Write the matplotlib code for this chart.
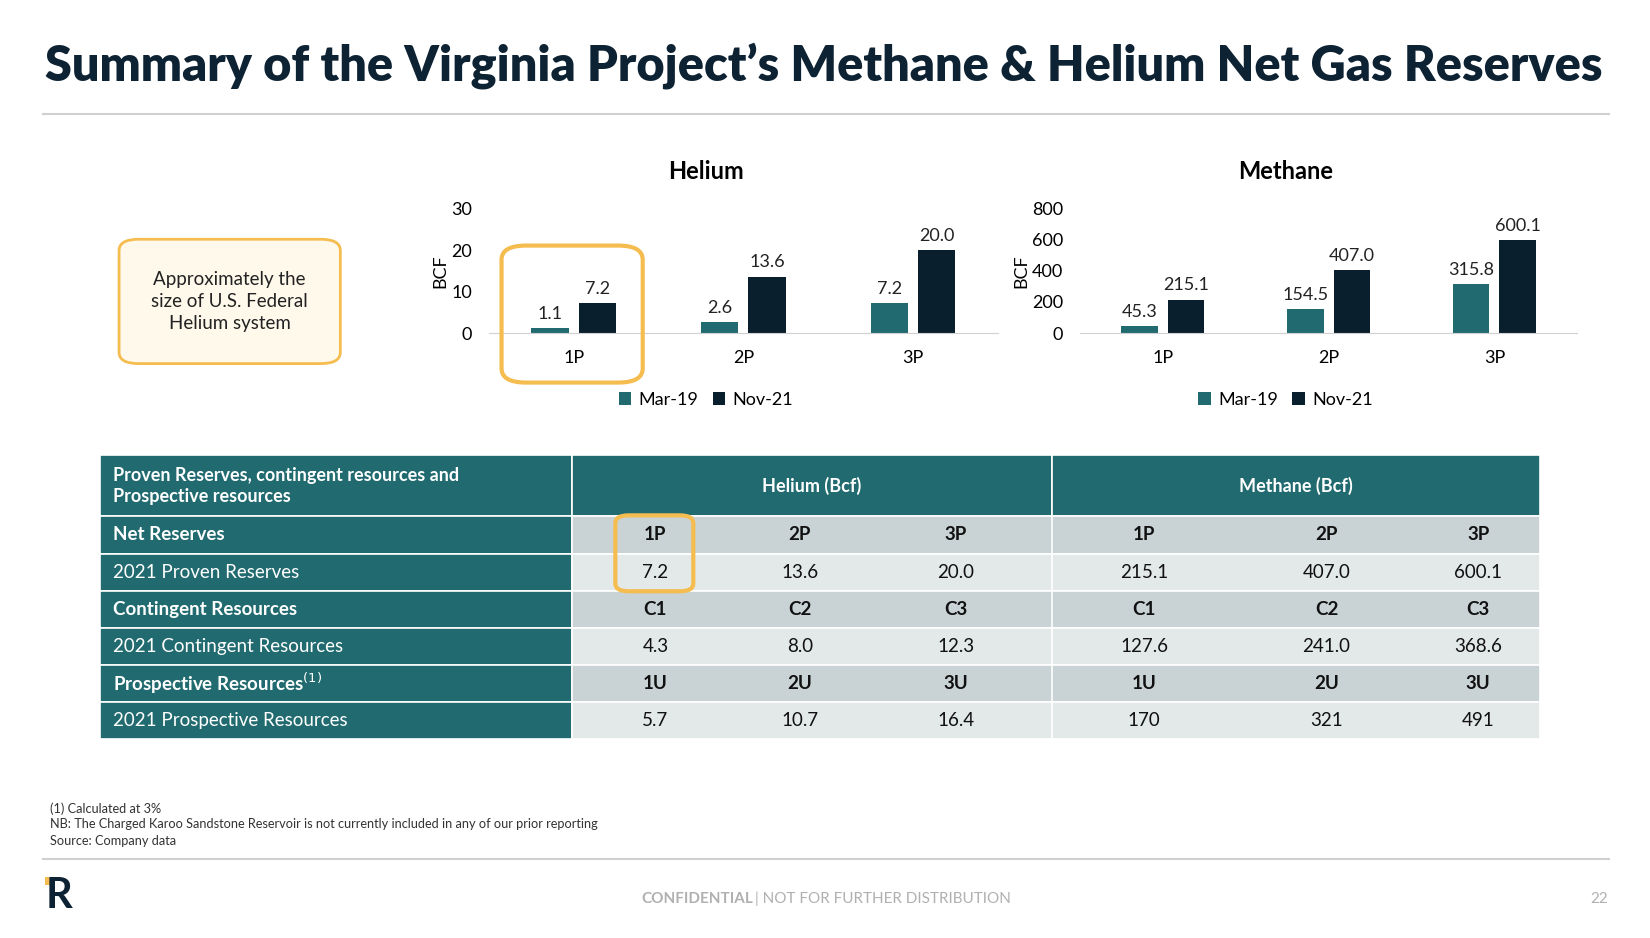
import matplotlib.pyplot as plt
from matplotlib.patches import FancyBboxPatch, Rectangle
import numpy as np

plt.rcParams['font.family'] = ['Lato', 'DejaVu Sans']

categories = ['1P', '2P', '3P']
helium_mar19 = [1.1, 2.6, 7.2]
helium_nov21 = [7.2, 13.6, 20.0]
methane_mar19 = [45.3, 154.5, 315.8]
methane_nov21 = [215.1, 407.0, 600.1]

table_header = ['Proven Reserves, contingent resources and\nProspective resources', 'Helium (Bcf)', 'Methane (Bcf)']
table_rows = [
    ('Net Reserves', ['1P', '2P', '3P', '1P', '2P', '3P'], True),
    ('2021 Proven Reserves', ['7.2', '13.6', '20.0', '215.1', '407.0', '600.1'], False),
    ('Contingent Resources', ['C1', 'C2', 'C3', 'C1', 'C2', 'C3'], True),
    ('2021 Contingent Resources', ['4.3', '8.0', '12.3', '127.6', '241.0', '368.6'], False),
    ('Prospective Resources$^{(1)}$', ['1U', '2U', '3U', '1U', '2U', '3U'], True),
    ('2021 Prospective Resources', ['5.7', '10.7', '16.4', '170', '321', '491'], False),
]

TEAL = '#216b70'
DARK = '#0a1f2e'
NAVY = '#0d2233'
ORANGE = '#f5bd50'
W, H = 1566, 890


def fx(x):
    return x / W


def fy(y):
    return 1 - y / H


fig = plt.figure(figsize=(16.5, 9.38), dpi=100)

fig.text(fx(43), fy(62), 'Summary of the Virginia Project\u2019s Methane & Helium Net Gas Reserves',
         fontsize=35, fontweight='heavy', color=NAVY, va='center')
fig.add_artist(plt.Line2D([fx(41), fx(1527)], [fy(108), fy(108)], color='#d0d0d0', lw=1.5))


def bar_chart(x0, x1, title, title_x, mar, nov, ymax, yticks):
    ax = fig.add_axes([fx(x0), fy(316), fx(x1) - fx(x0), fy(198) - fy(316)])
    x = np.arange(len(categories))
    b1 = ax.bar(x - 0.14, mar, 0.22, color=TEAL, label='Mar-19')
    b2 = ax.bar(x + 0.14, nov, 0.22, color=DARK, label='Nov-21')
    for bars, vals in ((b1, mar), (b2, nov)):
        for r, v in zip(bars, vals):
            ax.text(r.get_x() + r.get_width() / 2, v + ymax * 0.05, f'{v:.1f}',
                    ha='center', va='bottom', fontsize=13, color='#222')
    ax.set_xlim(-0.5, 2.5)
    ax.set_ylim(0, ymax)
    ax.set_yticks(yticks)
    ax.set_xticks(x)
    ax.set_xticklabels(categories)
    ax.tick_params(length=0, labelsize=13, pad=12)
    for s in ('top', 'right', 'left'):
        ax.spines[s].set_visible(False)
    ax.spines['bottom'].set_color('#d0d0d0')
    ax.set_ylabel('BCF', fontsize=13, labelpad=2)
    fig.text(fx(title_x), fy(163), title, fontsize=17, fontweight='bold', ha='center', va='center')
    lx = (fx(title_x) - fx(x0)) / (fx(x1) - fx(x0))
    ax.legend(loc='upper center', bbox_to_anchor=(lx, -0.34), ncol=2, frameon=False,
              fontsize=13, handlelength=0.7, handleheight=0.7, columnspacing=0.8, handletextpad=0.4)
    ax.patch.set_alpha(0)
    return ax


bar_chart(464, 947, 'Helium', 670, helium_mar19, helium_nov21, 30, [0, 10, 20, 30])
bar_chart(1025, 1497, 'Methane', 1220, methane_mar19, methane_nov21, 800, [0, 200, 400, 600, 800])

# callout box and highlight
fig.add_artist(FancyBboxPatch((fx(113), fy(345)), fx(210), 118 / H, boxstyle='round,pad=0,rounding_size=0.012',
                              transform=fig.transFigure, fc='#fff9ec', ec=ORANGE, lw=2))
fig.text(fx(218), fy(286), 'Approximately the\nsize of U.S. Federal\nHelium system', ha='center', va='center',
         fontsize=13.5, color='#222', linespacing=1.35)
fig.add_artist(FancyBboxPatch((fx(476), fy(363)), fx(134), 130 / H, boxstyle='round,pad=0,rounding_size=0.015',
                              transform=fig.transFigure, fc='none', ec=ORANGE, lw=3))

# table
col_edges = [95, 543, 998, 1462]
sub_centers = [622, 759, 907, 1086, 1259, 1403]


def cell(x0, x1, y0, y1, color):
    fig.add_artist(Rectangle((fx(x0), fy(y1)), fx(x1) - fx(x0), (y1 - y0) / H,
                             transform=fig.transFigure, fc=color, ec='white', lw=1.2))


for i in range(3):
    cell(col_edges[i], col_edges[i + 1], 432, 490, TEAL)
fig.text(fx(107), fy(461), table_header[0], fontsize=13, fontweight='bold', color='white', va='center',
         linespacing=1.3)
fig.text(fx(770), fy(461), table_header[1], fontsize=13, fontweight='bold', color='white', ha='center', va='center')
fig.text(fx(1230), fy(461), table_header[2], fontsize=13, fontweight='bold', color='white', ha='center', va='center')

y = 490
for label, vals, bold in table_rows:
    y1 = y + 35.2
    cell(95, 543, y, y1, TEAL)
    cell(543, 1462, y, y1, '#c9d3d5' if bold else '#e3e8e9')
    fig.text(fx(107), fy((y + y1) / 2), label, fontsize=13.5, color='white', va='center',
             fontweight='bold' if bold else 'normal')
    for cx, v in zip(sub_centers, vals):
        fig.text(fx(cx), fy((y + y1) / 2), v, fontsize=13.5, ha='center', va='center', color='#111',
                 fontweight='bold' if bold else 'normal')
    y = y1
fig.add_artist(plt.Line2D([fx(998), fx(998)], [fy(490), fy(701)], color='white', lw=1.2))

fig.add_artist(FancyBboxPatch((fx(584), fy(561)), fx(74), 72 / H, boxstyle='round,pad=0,rounding_size=0.008',
                              transform=fig.transFigure, fc='none', ec=ORANGE, lw=3))

# footnotes
for yy, t in ((767, '(1) Calculated at 3%'),
              (782, 'NB: The Charged Karoo Sandstone Reservoir is not currently included in any of our prior reporting'),
              (798, 'Source: Company data')):
    fig.text(fx(47), fy(yy), t, fontsize=9.2, color='#333', va='center')
fig.add_artist(plt.Line2D([fx(41), fx(1527)], [fy(815), fy(815)], color='#d0d0d0', lw=1.5))

fig.text(fx(43), fy(850), 'R', fontsize=30, fontweight='bold', color=NAVY, va='center')
fig.add_artist(Rectangle((fx(43), fy(840)), fx(8), 8 / H, transform=fig.transFigure, fc=ORANGE, ec='none'))
fig.text(fx(715), fy(853), 'CONFIDENTIAL', fontsize=11, fontweight='bold', color='#b0b0b0', ha='right', va='center')
fig.text(fx(717), fy(853), '| NOT FOR FURTHER DISTRIBUTION', fontsize=11, color='#b0b0b0', ha='left', va='center')
fig.text(fx(1526), fy(853), '22', fontsize=11, color='#b0b0b0', ha='right', va='center')

fig.savefig('out.png', dpi=100, facecolor='white')
